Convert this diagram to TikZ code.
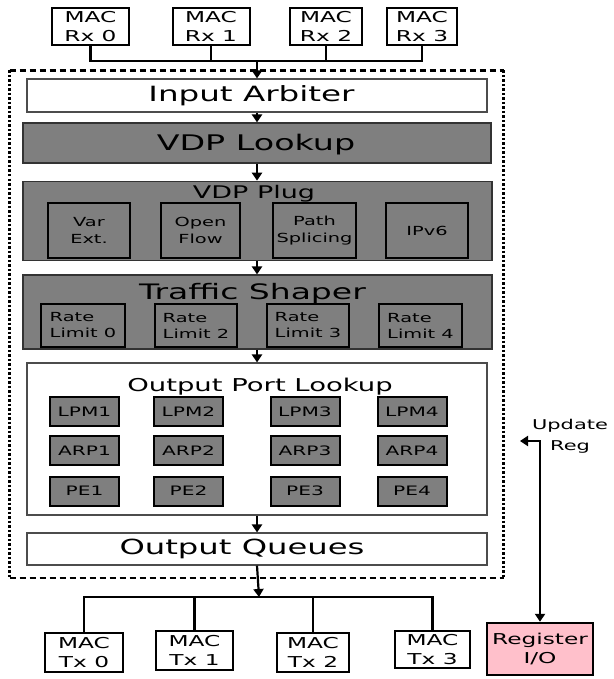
\documentclass[tikz,border=0pt]{standalone}
\usepackage{fontspec}
\setmainfont{DejaVu Sans}[FakeStretch=1.55]
\usetikzlibrary{arrows.meta}
\definecolor{boxgray}{HTML}{7F7F7F}
\definecolor{regpink}{HTML}{FFC0CB}
\tikzset{
 macbox/.style={draw, line width=2pt, fill=white, inner sep=0pt, align=center, font=\fontsize{15}{18.5}\selectfont},
 widebox/.style={draw=black!70, line width=1.1pt, fill=white, inner sep=0pt},
 graybox/.style={draw=black!80, line width=1.1pt, fill=boxgray, inner sep=0pt},
 subbox/.style={draw, line width=2.4pt, fill=boxgray, inner sep=0pt, align=center, minimum height=55, font=\fontsize{12.5}{16.5}\selectfont},
 ratebox/.style={draw, line width=2.4pt, fill=boxgray, inner sep=0pt, align=left, minimum height=43, font=\fontsize{12.5}{16}\selectfont},
 smallbox/.style={draw, line width=2pt, fill=boxgray, inner sep=0pt, minimum width=69, minimum height=29, font=\fontsize{13}{15}\selectfont},
 title/.style={anchor=base, inner sep=0pt},
 conn/.style={line width=2.2pt},
 arr/.style={line width=2.2pt, -{Triangle[length=8pt,width=10pt]}},
 dhoriz/.style={line width=2.2pt, dash pattern=on 6.5pt off 3.5pt},
 dvert/.style={line width=2.2pt, dash pattern=on 2.5pt off 2pt},
}
\begin{document}
\begin{tikzpicture}[x=1pt,y=-1pt]
\useasboundingbox (0,0) rectangle (613,679);
% dotted frame
\coordinate (ftl) at (9.5,70.5);
\coordinate (fbr) at (503.5,578);
\draw[dhoriz] (ftl) -- (ftl -| fbr);
\draw[dhoriz] (ftl |- fbr) -- (fbr);
\draw[dvert] (ftl) -- (ftl |- fbr);
\draw[dvert] (ftl -| fbr) -- (fbr);
% MAC Rx
\node[macbox, minimum width=77, minimum height=37] (rx0) at (90.5,26.5) {MAC\\Rx 0};
\node[macbox, minimum width=77, minimum height=37] (rx1) at (211,26.5) {MAC\\Rx 1};
\node[macbox, minimum width=72, minimum height=37] (rx2) at (326,26.5) {MAC\\Rx 2};
\node[macbox, minimum width=70, minimum height=37] (rx3) at (422,26.5) {MAC\\Rx 3};
\coordinate (bus) at (257,61);
\draw[conn] (rx0.south) -- (rx0.south |- bus) -- (rx3.south |- bus) -- (rx3.south);
\draw[conn] (rx1.south) -- (rx1.south |- bus);
\draw[conn] (rx2.south) -- (rx2.south |- bus);
% main pipeline
\node[widebox, minimum width=460, minimum height=33] (ia) at (257,95.5) {};
\node[title, font=\fontsize{21}{24}\selectfont] (iat) at (251.5,102) {Input Arbiter};
\node[graybox, minimum width=468, minimum height=40] (vdpl) at (257,143) {};
\node[title, font=\fontsize{21.5}{24}\selectfont] (vdplt) at (256,151) {VDP Lookup};
\node[graybox, minimum width=469, minimum height=79.5] (vdpp) at (257.5,221) {};
\node[title, font=\fontsize{17.4}{20}\selectfont] (vdppt) at (254,198) {VDP Plug};
\node[subbox, minimum width=82] (var) at (89,230.5) {Var\\Ext.};
\node[subbox, minimum width=79] (of) at (200.5,230.5) {Open\\Flow};
\node[subbox, minimum width=83] (ps) at (314.5,230.5) {Path\\Splicing};
\node[subbox, minimum width=82] (ipv6) at (427,230.5) {IPv6};
\node[graybox, minimum width=469, minimum height=74] (ts) at (257.5,312) {};
\node[title, font=\fontsize{21.3}{26}\selectfont] (tst) at (252.5,299) {Traffic Shaper};
\node[ratebox, minimum width=84] (rl0) at (83,325.5) {Rate\\Limit 0};
\node[ratebox, minimum width=82] (rl2) at (196,325.5) {Rate\\Limit 2};
\node[ratebox, minimum width=82] (rl3) at (308,325.5) {Rate\\Limit 3};
\node[ratebox, minimum width=83] (rl4) at (420.5,325.5) {Rate\\Limit 4};
\node[widebox, minimum width=460, minimum height=152] (opl) at (257,439) {};
\node[title, font=\fontsize{17.7}{20}\selectfont] (oplt) at (260,391) {Output Port Lookup};
\node[smallbox] (lpm1) at (84.5,411.5) {LPM1};
\node[smallbox] (lpm2) at (188.5,411.5) {LPM2};
\node[smallbox] (lpm3) at (305,411.5) {LPM3};
\node[smallbox] (lpm4) at (412,411.5) {LPM4};
\node[smallbox] (arp1) at (84.5,450.5) {ARP1};
\node[smallbox] (arp2) at (188.5,450.5) {ARP2};
\node[smallbox] (arp3) at (305,450.5) {ARP3};
\node[smallbox] (arp4) at (412,450.5) {ARP4};
\node[smallbox] (pe1) at (84.5,491) {PE1};
\node[smallbox] (pe2) at (188.5,491) {PE2};
\node[smallbox] (pe3) at (305,491) {PE3};
\node[smallbox] (pe4) at (412,491) {PE4};
\node[widebox, minimum width=460, minimum height=32] (oq) at (257,549) {};
\node[title, font=\fontsize{20.8}{23}\selectfont] (oqt) at (242,554.5) {Output Queues};
% pipeline arrows
\draw[arr] (bus) -- (ia.north);
\draw[arr] (ia.south) -- (vdpl.north);
\draw[arr] (vdpl.south) -- (vdpp.north -| vdpl.south);
\draw[arr] (vdpp.south -| vdpl.south) -- (ts.north -| vdpl.south);
\draw[arr] (ts.south -| vdpl.south) -- (opl.north);
\draw[arr] (opl.south) -- (oq.north);
% MAC Tx
\node[macbox, minimum width=78, minimum height=39] (tx0) at (84,652.5) {MAC\\Tx 0};
\node[macbox, minimum width=77, minimum height=39] (tx1) at (194.5,650.5) {MAC\\Tx 1};
\node[macbox, minimum width=72, minimum height=39] (tx2) at (313,652.5) {MAC\\Tx 2};
\node[macbox, minimum width=75, minimum height=37] (tx3) at (432.5,649.5) {MAC\\Tx 3};
\coordinate (tbus) at (259,597);
\draw[arr] (oq.south) -- (tbus);
\draw[conn] (tx0.north) -- (tx0.north |- tbus) -- (tx3.north |- tbus) -- (tx3.north);
\draw[conn] (tx1.north) -- (tx1.north |- tbus);
\draw[conn] (tx2.north) -- (tx2.north |- tbus);
% Register I/O
\node[draw, line width=2.4pt, fill=regpink, inner sep=0pt, minimum width=106, minimum height=52, align=center, font=\fontsize{15}{19}\selectfont] (reg) at (540,649) {Register\\I/O};
\node[align=center, inner sep=0pt, font=\fontsize{13.5}{21}\selectfont] (upd) at (570,436) {Update\\Reg};
\coordinate (updt) at (520,441);
\draw[line width=2.2pt, {Triangle[length=8pt,width=10pt]}-{Triangle[length=8pt,width=10pt]}] (updt) -- (updt -| reg.north) -- (reg.north);
\end{tikzpicture}
\end{document}
